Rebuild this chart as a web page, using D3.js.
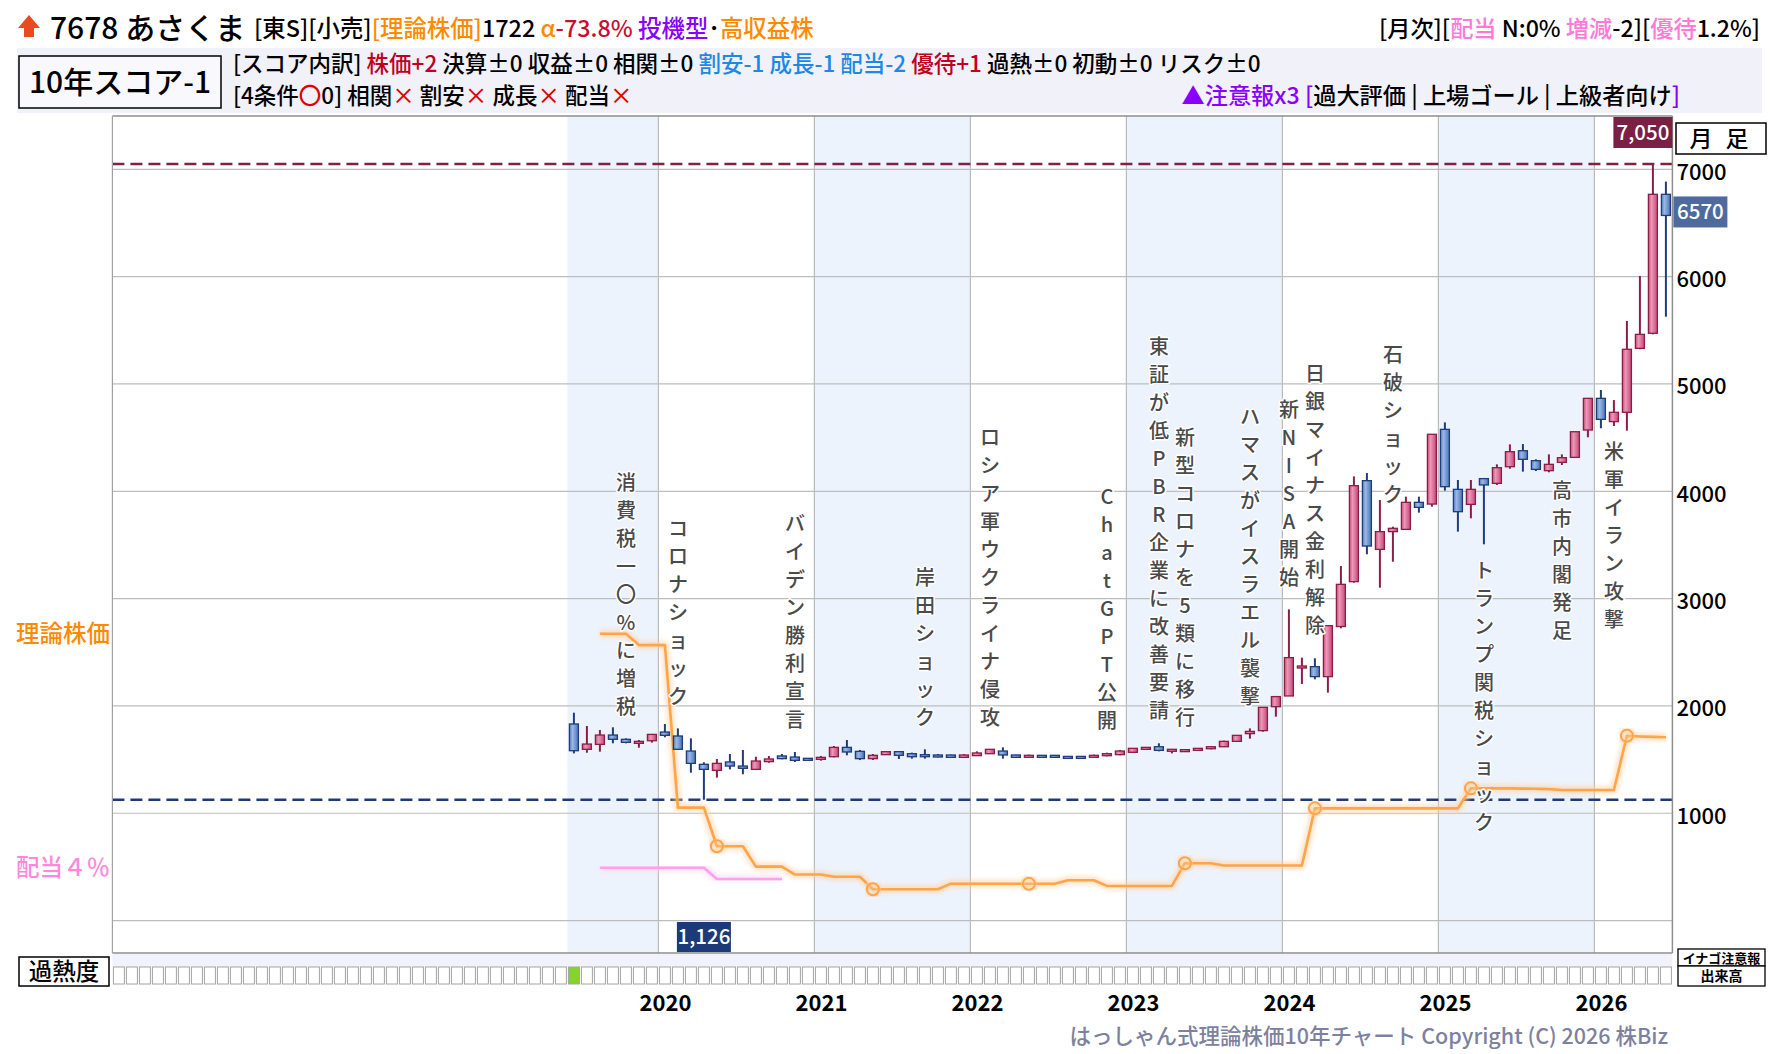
<!DOCTYPE html>
<html>
<head>
<meta charset="utf-8">
<script src="https://cdn.jsdelivr.net/npm/d3@7"></script>
<style>
  body { margin: 0; background: #fff; }
  svg { display: block; font-family: "Noto Sans CJK JP", "Noto Sans", sans-serif; }
</style>
</head>
<body>
<svg id="chart" width="1780" height="1054"></svg>
<script>
// ---- data (monthly, 2019-06 .. 2026-06) ----
var months = [
  "2019-06","2019-07","2019-08","2019-09","2019-10","2019-11","2019-12",
  "2020-01","2020-02","2020-03","2020-04","2020-05","2020-06","2020-07","2020-08","2020-09","2020-10","2020-11","2020-12",
  "2021-01","2021-02","2021-03","2021-04","2021-05","2021-06","2021-07","2021-08","2021-09","2021-10","2021-11","2021-12",
  "2022-01","2022-02","2022-03","2022-04","2022-05","2022-06","2022-07","2022-08","2022-09","2022-10","2022-11","2022-12",
  "2023-01","2023-02","2023-03","2023-04","2023-05","2023-06","2023-07","2023-08","2023-09","2023-10","2023-11","2023-12",
  "2024-01","2024-02","2024-03","2024-04","2024-05","2024-06","2024-07","2024-08","2024-09","2024-10","2024-11","2024-12",
  "2025-01","2025-02","2025-03","2025-04","2025-05","2025-06","2025-07","2025-08","2025-09","2025-10","2025-11","2025-12",
  "2026-01","2026-02","2026-03","2026-04","2026-05","2026-06"
];
var opens = [
  1832,1596,1642,1729,1689,1661,1676,
  1757,1720,1580,1456,1400,1478,1440,1409,1481,1534,1524,1512,
  1503,1527,1614,1577,1509,1546,1574,1555,1546,1543,1543,1521,
  1537,1555,1580,1543,1525,1540,1540,1530,1530,1530,1543,1546,
  1568,1600,1620,1583,1583,1586,1602,1620,1670,1742,1770,1993,
  2093,2357,2366,2273,2740,3158,4099,3459,3624,3645,3897,3881,
  4577,4018,3878,4118,4074,4229,4378,4285,4192,4270,4316,4571,
  4866,4649,4736,5332,5472,6767
];
var highs = [
  1937,1813,1776,1801,1698,1683,1739,
  1832,1791,1698,1475,1506,1552,1590,1527,1534,1552,1571,1515,
  1534,1627,1683,1590,1552,1577,1577,1565,1596,1552,1546,1552,
  1577,1596,1614,1546,1546,1543,1543,1533,1533,1546,1565,1590,
  1605,1614,1652,1596,1596,1605,1627,1677,1726,1791,1987,2093,
  2900,2450,2444,2748,3304,4139,4170,3919,3670,3950,3950,4531,
  4642,4105,4105,4118,4251,4437,4440,4298,4344,4344,4555,4866,
  4944,4850,5587,6006,7050,6885
];
var lows = [
  1558,1564,1574,1652,1652,1611,1658,
  1708,1590,1378,1126,1332,1409,1363,1409,1471,1503,1478,1490,
  1490,1521,1540,1496,1496,1546,1506,1509,1509,1521,1518,1518,
  1537,1555,1509,1518,1518,1518,1518,1518,1518,1518,1530,1540,
  1565,1590,1577,1558,1580,1586,1596,1620,1670,1695,1760,1900,
  2093,2204,2248,2124,2723,3149,3413,3102,3344,3639,3801,3857,
  4006,3624,3748,3506,4059,4210,4183,4189,4177,4245,4316,4503,
  4587,4608,4565,5323,5462,5627
];
var closes = [
  1583,1645,1729,1689,1661,1670,1735,
  1726,1596,1465,1409,1465,1440,1419,1487,1506,1509,1493,1499,
  1521,1614,1571,1509,1540,1574,1540,1527,1527,1527,1521,1543,
  1562,1596,1543,1521,1540,1521,1521,1521,1521,1540,1555,1580,
  1605,1614,1586,1596,1593,1605,1620,1670,1726,1763,1987,2087,
  2450,2372,2273,2748,3133,4052,3490,3624,3655,3897,3850,4531,
  4043,3810,4018,4059,4220,4369,4298,4204,4251,4313,4555,4866,
  4670,4736,5323,5462,6767,6570
];
// theoretical price (理論株価)
var theoPrice = [
  null,null,2672,2672,2672,2567,2567,
  2567,1053,1053,1053,693,693,693,503,503,503,429,429,
  429,408,408,408,292,292,292,292,292,292,344,344,
  344,344,344,344,344,344,344,376,376,376,323,323,
  323,323,323,323,535,535,535,514,514,514,514,514,
  514,514,1046,1046,1046,1046,1046,1046,1046,1046,1046,1046,
  1046,1046,1232,1232,1232,1232,1230,1228,1225,1217,1217,1217,
  1217,1217,1722,1716,1712,1708
];
var theoMarks = ["2020-05","2021-05","2022-05","2023-05","2024-03","2025-03","2026-03"];
// dividend yield 4% price (配当4%)
var divPrice = [
  null,null,493,493,493,493,493,
  493,493,493,493,388,388,388,388,388,388,null,null
];

var priceGrid = [0,1000,2000,3000,4000,5000,6000,7000];
var priceTicks = [1000,2000,3000,4000,5000,6000,7000];
var yearLabels = ["2020","2021","2022","2023","2024","2025","2026"];
var shadeSpans = [["2019-06","2020-01"],["2021-01","2022-01"],["2023-01","2024-01"],["2025-01","2026-01"]];
var overheatMonths = ["2019-06"];

var eventMonths = ["2019-10","2020-02","2020-11","2021-09","2022-02","2022-11","2023-03","2023-05",
                   "2023-10","2024-01","2024-03","2024-09","2025-04","2025-10","2026-02"];
var eventTexts = ["消費税一〇%に増税","コロナショック","バイデン勝利宣言","岸田ショック","ロシア軍ウクライナ侵攻",
                  "ChatGPT公開","東証が低PBR企業に改善要請","新型コロナを5類に移行","ハマスがイスラエル襲撃",
                  "新NISA開始","日銀マイナス金利解除","石破ショック","トランプ関税ショック","高市内閣発足","米軍イラン攻撃"];
var eventBelow = [0,0,0,0,0,0,0,0,0,0,0,0,1,1,1];

var highPrice = 7050, lowPrice = 1126, lowMonth = "2020-04";

// ---- layout ----
var L = 112.4, R = 1672.4, T = 116, B = 953;
var svg = d3.select("#chart");

var mi = function(s) { var p = s.split("-"); return (+p[0] - 2020) * 12 + (+p[1] - 1); };
var x = d3.scaleLinear().domain([-42, 78]).range([L, R]);
var y = d3.scaleLinear().domain([0, 7000]).range([920.6, 169.3]);
var xc = function(s) { return x(mi(s) + 0.5); };

var data = months.map(function(m, i) {
  return { m: m, o: opens[i], h: highs[i], l: lows[i], c: closes[i], t: theoPrice[i], d: divPrice[i] };
});

// defs: gradients + glow
var defs = svg.append("defs");
function grad(id, stops) {
  var g = defs.append("linearGradient").attr("id", id).attr("x1", "0").attr("x2", "1").attr("y1", "0").attr("y2", "0");
  stops.forEach(function(s) { g.append("stop").attr("offset", s[0]).attr("stop-color", s[1]); });
}
grad("upG", [["0%", "#cf4f7c"], ["35%", "#eb98b6"], ["100%", "#c8467a"]]);
grad("dnG", [["0%", "#5580c4"], ["35%", "#9ab8e6"], ["100%", "#4a73b7"]]);
defs.append("filter").attr("id", "glow").attr("x", "-10%").attr("y", "-10%").attr("width", "120%").attr("height", "120%")
  .append("feGaussianBlur").attr("stdDeviation", 2.2);

// ---- header ----
svg.append("path").attr("d", "M29,15 L40,28 L34,28 L34,37 L24,37 L24,28 L18,28 Z").attr("fill", "#ea4a1f");
svg.append("text").attr("x", 50).attr("y", 39).attr("font-size", 30).attr("font-weight", 500).text("7678 あさくま");

function richText(sel, parts) {
  parts.forEach(function(p) { sel.append("tspan").attr("fill", p[1] || "#000").text(p[0]); });
  return sel;
}
richText(svg.append("text").attr("x", 254).attr("y", 37).attr("font-size", 23.4).attr("font-weight", 500), [
  ["[東S][小売]"], ["[理論株価]", "#ff8a00"], ["1722"], [" α", "#ff8a00"], ["-73.8%", "#c8102e"],
  [" 投機型", "#8a00ff"], ["･"], ["高収益株", "#ff8a00"]
]);
richText(svg.append("text").attr("x", 1760).attr("y", 37).attr("font-size", 23.2).attr("font-weight", 500).attr("text-anchor", "end"), [
  ["[月次]["], ["配当", "#ff7ad8"], [" N:0% "], ["増減", "#ff7ad8"], ["-2]["], ["優待", "#ff7ad8"], ["1.2%]"]
]);

svg.append("rect").attr("x", 17).attr("y", 48).attr("width", 1745).attr("height", 65).attr("fill", "#f1f1fa");
svg.append("rect").attr("x", 19).attr("y", 56).attr("width", 202).attr("height", 52)
  .attr("fill", "#f9f9fd").attr("stroke", "#000").attr("stroke-width", 1.5);
svg.append("text").attr("x", 120).attr("y", 93).attr("font-size", 30).attr("font-weight", 500)
  .attr("text-anchor", "middle").text("10年スコア-1");

richText(svg.append("text").attr("x", 233).attr("y", 72).attr("font-size", 22.5).attr("font-weight", 500), [
  ["[スコア内訳] "], ["株価+2", "#c00020"], [" 決算±0 収益±0 相関±0 "], ["割安-1 成長-1 配当-2", "#1e88e5"],
  [" "], ["優待+1", "#c00020"], [" 過熱±0 初動±0 リスク±0"]
]);
richText(svg.append("text").attr("x", 233).attr("y", 104).attr("font-size", 22.5).attr("font-weight", 500), [
  ["[4条件"], ["〇", "#e00000"], ["0] 相関"], ["×", "#e00000"], [" 割安"], ["×", "#e00000"],
  [" 成長"], ["×", "#e00000"], [" 配当"], ["×", "#e00000"]
]);
richText(svg.append("text").attr("x", 1680).attr("y", 104).attr("font-size", 23.2).attr("font-weight", 500).attr("text-anchor", "end"), [
  ["▲注意報x3 [", "#8a00ff"], ["過大評価 | 上場ゴール | 上級者向け"], ["]", "#8a00ff"]
]);

// ---- plot background ----
var plot = svg.append("g");
plot.append("rect").attr("x", L).attr("y", T).attr("width", R - L).attr("height", B - T).attr("fill", "#fff");
plot.selectAll("rect.shade").data(shadeSpans).enter().append("rect").attr("class", "shade")
  .attr("x", function(d) { return x(mi(d[0])); })
  .attr("width", function(d) { return x(mi(d[1])) - x(mi(d[0])); })
  .attr("y", T).attr("height", B - T).attr("fill", "#edf3fc");

plot.selectAll("line.hg").data(priceGrid).enter().append("line").attr("class", "hg")
  .attr("x1", L).attr("x2", R).attr("y1", function(d) { return y(d); }).attr("y2", function(d) { return y(d); })
  .attr("stroke", "#bdbdbd").attr("stroke-width", 1.2);
plot.selectAll("line.vg").data(yearLabels).enter().append("line").attr("class", "vg")
  .attr("x1", function(d) { return x(mi(d + "-01")); }).attr("x2", function(d) { return x(mi(d + "-01")); })
  .attr("y1", T).attr("y2", B).attr("stroke", "#bcbcbc").attr("stroke-width", 1.2);

// high / low dashed lines
plot.append("line").attr("x1", L).attr("x2", R).attr("y1", y(highPrice)).attr("y2", y(highPrice))
  .attr("stroke", "#7b2246").attr("stroke-width", 2.6).attr("stroke-dasharray", "12,6");
plot.append("line").attr("x1", L).attr("x2", R).attr("y1", y(lowPrice)).attr("y2", y(lowPrice))
  .attr("stroke", "#1f3b73").attr("stroke-width", 2.6).attr("stroke-dasharray", "12,6");

// ---- theoretical price + dividend lines ----
function glowLine(key, color, halo) {
  var line = d3.line().defined(function(d) { return d[key] != null; })
    .x(function(d) { return xc(d.m); }).y(function(d) { return y(d[key]); });
  plot.append("path").datum(data).attr("d", line).attr("fill", "none").attr("stroke", halo)
    .attr("stroke-width", 8).attr("opacity", 0.6).attr("filter", "url(#glow)").attr("stroke-linejoin", "round");
  plot.append("path").datum(data).attr("d", line).attr("fill", "none").attr("stroke", color)
    .attr("stroke-width", 2.6).attr("stroke-linejoin", "round");
}
glowLine("d", "#ffa0ea", "#ffd2f5");
glowLine("t", "#ffa448", "#ffd0a0");

var marks = data.filter(function(d) { return theoMarks.indexOf(d.m) >= 0; });
plot.selectAll("circle.halo").data(marks).enter().append("circle").attr("class", "halo")
  .attr("cx", function(d) { return xc(d.m); }).attr("cy", function(d) { return y(d.t); }).attr("r", 6)
  .attr("fill", "none").attr("stroke", "#ffd0a0").attr("stroke-width", 6).attr("opacity", 0.6).attr("filter", "url(#glow)");
plot.selectAll("circle.mark").data(marks).enter().append("circle").attr("class", "mark")
  .attr("cx", function(d) { return xc(d.m); }).attr("cy", function(d) { return y(d.t); }).attr("r", 6)
  .attr("fill", "none").attr("stroke", "#ffa448").attr("stroke-width", 2);

// ---- candles ----
var bw = 9;
var candle = plot.selectAll("g.candle").data(data).enter().append("g").attr("class", "candle");
candle.append("line")
  .attr("x1", function(d) { return xc(d.m); }).attr("x2", function(d) { return xc(d.m); })
  .attr("y1", function(d) { return y(d.h); }).attr("y2", function(d) { return y(d.l); })
  .attr("stroke", function(d) { return d.c >= d.o ? "#8b1e47" : "#1f3c7c"; }).attr("stroke-width", 2);
candle.append("rect")
  .attr("x", function(d) { return xc(d.m) - bw / 2; }).attr("width", bw)
  .attr("y", function(d) { return y(Math.max(d.o, d.c)); })
  .attr("height", function(d) { return Math.max(2, Math.abs(y(d.o) - y(d.c))); })
  .attr("fill", function(d) { return d.c >= d.o ? "url(#upG)" : "url(#dnG)"; })
  .attr("stroke", function(d) { return d.c >= d.o ? "#8b1e47" : "#1f3c7c"; }).attr("stroke-width", 1.3);

// ---- event annotations (vertical) ----
var ev = eventMonths.map(function(m, i) {
  var d = data[months.indexOf(m)];
  return { m: m, chars: Array.from(eventTexts[i]), below: eventBelow[i], h: d.h, l: d.l };
});
var evG = plot.selectAll("g.ev").data(ev).enter().append("g").attr("class", "ev");
evG.each(function(e) {
  var g = d3.select(this), n = e.chars.length, pitch = 28;
  e.chars.forEach(function(ch, k) {
    var cy = e.below ? y(e.l) + 26 + k * pitch : y(e.h) - 32 - (n - 1 - k) * pitch;
    g.append("text").attr("x", xc(e.m)).attr("y", cy).attr("dy", "0.36em")
      .attr("text-anchor", "middle").attr("font-size", 20).attr("font-weight", 500).attr("fill", "#4a4a4a")
      .attr("stroke", "#fff").attr("stroke-width", 3).attr("stroke-linejoin", "round")
      .attr("paint-order", "stroke").text(ch);
  });
});

// ---- plot border ----
plot.append("line").attr("x1", L).attr("x2", R).attr("y1", T).attr("y2", T).attr("stroke", "#8e8e8e").attr("stroke-width", 1.5);
plot.append("line").attr("x1", L).attr("x2", R).attr("y1", B).attr("y2", B).attr("stroke", "#8e8e8e").attr("stroke-width", 1.5);
plot.append("line").attr("x1", L).attr("x2", L).attr("y1", T).attr("y2", B).attr("stroke", "#a0a0a0").attr("stroke-width", 1.2);
plot.append("line").attr("x1", R).attr("x2", R).attr("y1", T).attr("y2", B).attr("stroke", "#8e8e8e").attr("stroke-width", 1.5);

// ---- value tags ----
function tag(cx, cyTop, w, h, fill, label) {
  svg.append("rect").attr("x", cx).attr("y", cyTop).attr("width", w).attr("height", h).attr("fill", fill);
  svg.append("text").attr("x", cx + w / 2).attr("y", cyTop + h / 2).attr("dy", "0.36em").attr("text-anchor", "middle")
    .attr("font-size", 20.5).attr("font-weight", 500).attr("fill", "#fff").text(label);
}
tag(R - 59, T + 1, 59, 31, "#7b1f45", d3.format(",")(highPrice));
tag(xc(lowMonth) - 27, B - 31, 54, 30, "#1c3a78", d3.format(",")(lowPrice));
var last = data[data.length - 1];
tag(R + 1, y(last.c) - 19, 54, 31, "#4f6b9d", String(last.c));

// right axis
var yAxis = svg.append("g").attr("transform", "translate(" + R + ",0)")
  .call(d3.axisRight(y).tickValues(priceTicks).tickSize(0).tickPadding(4).tickFormat(d3.format("d")));
yAxis.select(".domain").remove();
yAxis.selectAll("text").attr("font-size", 22).attr("font-weight", 500).attr("fill", "#000")
  .attr("font-family", "'Noto Sans CJK JP', sans-serif").attr("dy", "0.45em");

// 月足 box
svg.append("rect").attr("x", 1676).attr("y", 123).attr("width", 90).attr("height", 31)
  .attr("fill", "#fff").attr("stroke", "#000").attr("stroke-width", 1.5);
svg.append("text").attr("x", 1721).attr("y", 147).attr("text-anchor", "middle").attr("font-size", 23)
  .attr("font-weight", 500).attr("letter-spacing", 4).text("月 足");

// left labels
var firstTheo = data.filter(function(d) { return d.t != null; })[0];
var firstDiv = data.filter(function(d) { return d.d != null; })[0];
svg.append("text").attr("x", 110).attr("y", y(firstTheo.t)).attr("dy", "0.36em").attr("text-anchor", "end")
  .attr("font-size", 23.5).attr("font-weight", 500).attr("fill", "#ff8a00").text("理論株価");
svg.append("text").attr("x", 110).attr("y", y(firstDiv.d)).attr("dy", "0.36em").attr("text-anchor", "end")
  .attr("font-size", 23.5).attr("font-weight", 500).attr("fill", "#ff88dd").text("配当４％");

// ---- overheat row ----
svg.append("rect").attr("x", L).attr("y", B + 1).attr("width", R - L).attr("height", 13).attr("fill", "#f1f2fb");
svg.append("rect").attr("x", 19).attr("y", 957).attr("width", 90).attr("height", 29)
  .attr("fill", "#fff").attr("stroke", "#000").attr("stroke-width", 1.5);
svg.append("text").attr("x", 64).attr("y", 972).attr("dy", "0.36em").attr("text-anchor", "middle")
  .attr("font-size", 23.5).attr("font-weight", 500).text("過熱度");
var cells = d3.range(-42, 78);
svg.selectAll("rect.cell").data(cells).enter().append("rect").attr("class", "cell")
  .attr("x", function(k) { return x(k) + 1; }).attr("width", 11).attr("y", 967).attr("height", 17)
  .attr("fill", function(k) {
    return overheatMonths.some(function(m) { return mi(m) === k; }) ? "#84d624" : "#fff";
  })
  .attr("stroke", "#a4a4a4").attr("stroke-width", 1);

svg.append("rect").attr("x", 1678).attr("y", 949).attr("width", 87).attr("height", 17)
  .attr("fill", "#fff").attr("stroke", "#000").attr("stroke-width", 1.3);
svg.append("text").attr("x", 1721.5).attr("y", 958).attr("dy", "0.36em").attr("text-anchor", "middle")
  .attr("font-size", 13).attr("font-weight", "bold").text("イナゴ注意報");
svg.append("rect").attr("x", 1678).attr("y", 966).attr("width", 87).attr("height", 20)
  .attr("fill", "#fff").attr("stroke", "#000").attr("stroke-width", 1.3);
svg.append("text").attr("x", 1721.5).attr("y", 976).attr("dy", "0.36em").attr("text-anchor", "middle")
  .attr("font-size", 14).attr("font-weight", "bold").text("出来高");

// ---- year axis ----
var xAxis = svg.append("g").attr("transform", "translate(0,996)")
  .call(d3.axisBottom(x).tickValues(yearLabels.map(function(yl) { return mi(yl + "-01") + 0.5; }))
    .tickSize(0).tickPadding(0).tickFormat(function(v, i) { return yearLabels[i]; }));
xAxis.select(".domain").remove();
xAxis.selectAll("text").attr("font-size", 22).attr("font-weight", "bold").attr("fill", "#000")
  .attr("font-family", "'Noto Sans CJK JP', sans-serif").attr("dy", "0.7em");

// copyright
svg.append("text").attr("x", 1668).attr("y", 1044).attr("text-anchor", "end").attr("font-size", 21.5)
  .attr("font-weight", 500).attr("fill", "#7e819e").text("はっしゃん式理論株価10年チャート Copyright (C) 2026 株Biz");
</script>
</body>
</html>
